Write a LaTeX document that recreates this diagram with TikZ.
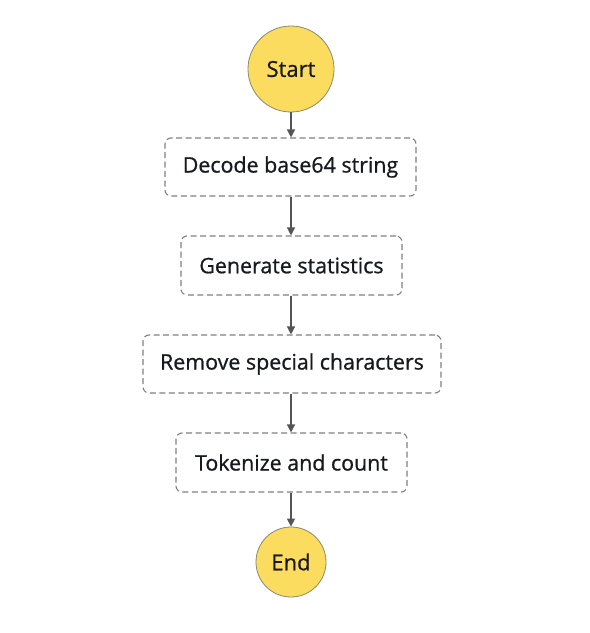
\documentclass[tikz,border=0pt]{standalone}
\usepackage{fontspec}
\setmainfont{Open Sans}[FakeBold=0.8]
\usetikzlibrary{arrows.meta}
\definecolor{startfill}{HTML}{FCDC5E}
\definecolor{circedge}{HTML}{8A8A70}
\definecolor{boxedge}{HTML}{808080}
\definecolor{arrowcol}{HTML}{555555}
\definecolor{txt}{HTML}{16191F}
\begin{document}
\begin{tikzpicture}[x=1pt,y=-1pt,
  statebox/.style={draw=boxedge, dashed, dash pattern=on 6pt off 3.5pt, line width=1.1pt, rounded corners=6pt, fill=white, inner sep=0pt, font=\fontsize{21.4}{25}\selectfont\color{txt}},
  termcirc/.style={circle, draw=circedge, line width=0.8pt, fill=startfill, inner sep=0pt, font=\fontsize{22}{26}\selectfont\color{txt}},
  flow/.style={draw=arrowcol, line width=1.3pt, -{Triangle[length=8pt,width=8pt]}}]
\useasboundingbox (0,0) rectangle (590,633);
\fill[white] (0,0) rectangle (590,633);
\node[termcirc, minimum size=86pt] (start) at (291,69) {Start};
\node[statebox, minimum width=251pt, minimum height=58pt] (decode) at (290.5,167) {Decode base64 string};
\node[statebox, minimum width=221pt, minimum height=59pt] (gen) at (291.5,265.5) {Generate statistics};
\node[statebox, minimum width=298pt, minimum height=58pt] (remove) at (292,364) {Remove special characters};
\node[statebox, minimum width=231pt, minimum height=59pt] (token) at (291.5,462.5) {Tokenize and count};
\node[termcirc, minimum size=70pt] (end) at (291,562) {End};
\draw[flow] (start.south) -- (start.south |- decode.north);
\draw[flow] (start.south |- decode.south) -- (start.south |- gen.north);
\draw[flow] (start.south |- gen.south) -- (start.south |- remove.north);
\draw[flow] (start.south |- remove.south) -- (start.south |- token.north);
\draw[flow] (start.south |- token.south) -- (end.north);
\end{tikzpicture}
\end{document}
